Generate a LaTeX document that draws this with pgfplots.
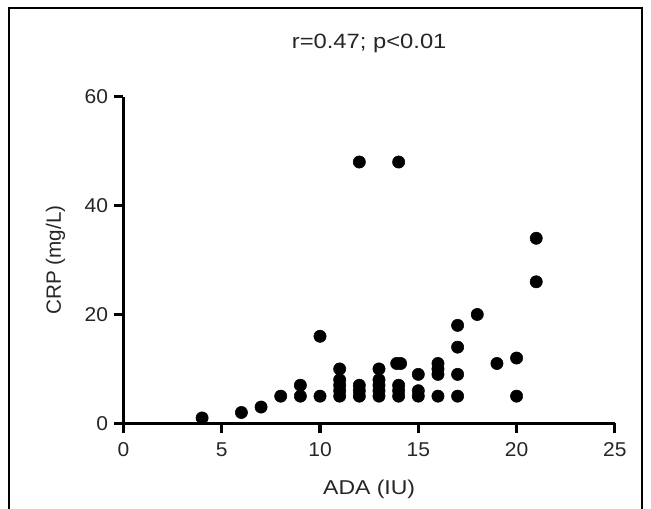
\documentclass[border=0pt]{standalone}
\usepackage{pgfplots}
\pgfplotsset{compat=1.18}
\usepackage{fontspec}
\setmainfont{Liberation Sans}
\newfontfamily\widefont{Liberation Sans}[FakeStretch=1.15]
\newfontfamily\tickfont{Liberation Sans}[FakeStretch=1.05]

\pgfplotstableread{
x y
4 1
6 2
7 3
8 5
9 7
9 5
10 16
10 5
11 10
11 8
11 7
11 6
11 5
12 48
12 7
12 6
12 5
13 10
13 8
13 7
13 6
13 5
13.9 11
14.1 11
14 48
14 7
14 6
14 5
15 9
15 6
15 5
16 11
16 10
16 9
16 5
17 18
17 14
17 9
17 5
18 20
19 11
20 12
20 5
21 34
21 26
}\adadata

\begin{document}
\begin{tikzpicture}
\useasboundingbox (-92.6pt,-63.5pt) rectangle (395.6pt,317.5pt);
% outer frame (open at the bottom, as cropped in the source)
\draw[line width=1.5pt] (-85.9pt,-70pt) -- (-85.9pt,311.3pt) -- (388.6pt,311.3pt) -- (388.6pt,-70pt);
\begin{axis}[
    scale only axis,
    width=368.5pt, height=245pt,
    xmin=0, xmax=25, ymin=0, ymax=60,
    axis x line=bottom, axis y line=left,
    axis line style={line width=2.4pt, -},
    xtick={0,5,...,25}, ytick={0,20,40,60},
    tick align=outside,
    major tick length=7pt,
    every tick/.style={black, line width=2.4pt},
    /pgf/number format/assume math mode=true,
    tick label style={font=\tickfont\fontsize{15}{17}\selectfont, text=black!85},
    xticklabel style={yshift=-4pt},
    yticklabel style={xshift=-1pt},
    title={r=0.47; p<0.01},
    title style={at={([yshift=34pt]axis description cs:0.5,1)}, anchor=center,
        font=\widefont\fontsize{15.5}{17}\selectfont, text=black!85},
    xlabel={ADA (IU)},
    ylabel={CRP (mg/L)},
    every axis x label/.style={at={([yshift=-49.3pt]axis description cs:0.5,0)},
        anchor=center, font=\widefont\fontsize{15}{17}\selectfont, text=black!85},
    every axis y label/.style={at={([xshift=-51pt]axis description cs:0,0.5)},
        anchor=center, rotate=90, font=\fontsize{15.5}{17}\selectfont, text=black!85},
    clip=false,
]
\addplot[only marks, mark=*, mark size=4.6pt, black] table {\adadata};
\end{axis}
\end{tikzpicture}
\end{document}
